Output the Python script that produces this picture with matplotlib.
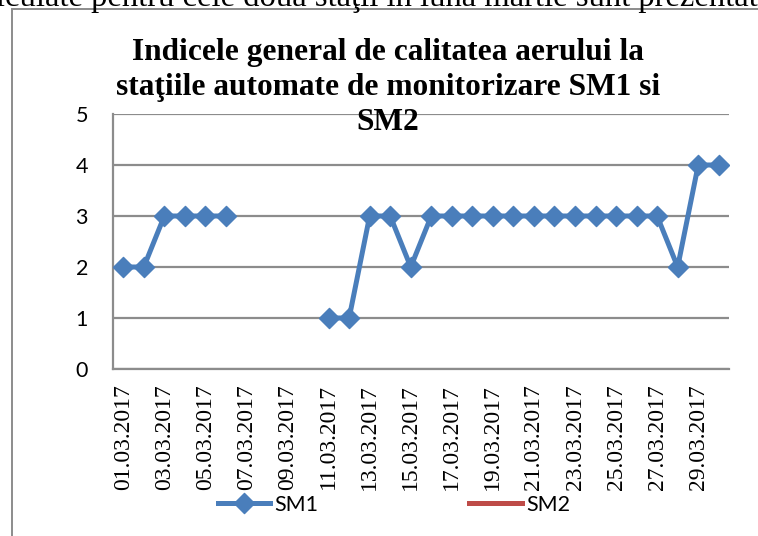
import matplotlib
matplotlib.use("Agg")
import matplotlib.pyplot as plt
from matplotlib.lines import Line2D
from matplotlib.patches import Rectangle
from matplotlib.font_manager import FontProperties
import numpy as np

dates = [f"{d:02d}.03.2017" for d in range(1, 31)]
sm1 = [2, 2, 3, 3, 3, 3, np.nan, np.nan, np.nan, np.nan,
       1, 1, 3, 3, 2, 3, 3, 3, 3, 3,
       3, 3, 3, 3, 3, 3, 3, 2, 4, 4]
sm2 = [np.nan] * 30
yticks = [0, 1, 2, 3, 4, 5]
title = "Indicele general de calitatea aerului la\nstaţiile automate de monitorizare SM1 si\nSM2"
top_text = "calculate pentru cele două staţii în luna martie sunt prezentate"

W, H = 758, 536
fig = plt.figure(figsize=(W / 100, H / 100), dpi=100)

serif_fp = FontProperties(family="Liberation Serif", size=17)
sans_fp = FontProperties(family="Lato", size=15.5)

# clipped document text at the very top of the page
fig.text(-33 / W, 1 - 6 / H, top_text, ha="left", va="baseline",
         fontsize=23.5, family="Liberation Serif", color="black")

# chart frame
fig.patches.append(Rectangle((12 / W, -0.1), 1.2, 1 - 9 / H + 0.1,
                             transform=fig.transFigure, fill=False,
                             edgecolor="#8c8c8c", lw=1.4, clip_on=False))

ax = fig.add_axes([113 / W, 1 - 369 / H, 616 / W, 255 / H])
x = np.arange(len(dates))

blue = "#4A7EBB"
red = "#BE4B48"
diamond = [(-1, 0), (0, 1), (1, 0), (0, -1), (-1, 0)]

ax.plot(x, sm1, color=blue, lw=3.6, marker=diamond, markersize=14.5,
        markerfacecolor=blue, markeredgecolor=blue, zorder=3)
ax.plot(x, sm2, color=red, lw=3.6)

ax.set_xlim(-0.5, len(dates) - 0.5)
ax.set_ylim(0, 5)
ax.tick_params(axis="both", length=0)
ax.tick_params(axis="y", pad=18)
ax.tick_params(axis="x", pad=11)
ax.set_yticks(yticks, [str(v) for v in yticks], fontproperties=sans_fp)
ax.set_xticks(x[::2], dates[::2], fontproperties=serif_fp, rotation=90,
              va="top", ha="center")

ax.grid(axis="y", color="#8c8c8c", lw=1.6)
ax.set_axisbelow(True)
for s in ["top", "right"]:
    ax.spines[s].set_visible(False)
ax.spines["left"].set_color("#8c8c8c")
ax.spines["left"].set_linewidth(1.6)
ax.spines["bottom"].set_color("#8c8c8c")
ax.spines["bottom"].set_linewidth(1.6)

fig.text(388 / W, 1 - 38 / H, title, ha="center", va="top",
         fontsize=22.6, fontweight="bold", family="Liberation Serif",
         linespacing=1.28, zorder=5)

handles = [Line2D([], [], color=blue, lw=3.6, marker=diamond, markersize=14.5,
                  markerfacecolor=blue, markeredgecolor=blue),
           Line2D([], [], color=red, lw=3.6)]
leg = fig.legend(handles, ["SM1", "SM2"], loc="center",
                 bbox_to_anchor=(394 / W, 1 - 505 / H), ncol=2,
                 frameon=False, handlelength=2.45, handletextpad=0.2,
                 columnspacing=7.0, prop=sans_fp,
                 borderpad=0, borderaxespad=0)

fig.savefig("out.png", dpi=100)
